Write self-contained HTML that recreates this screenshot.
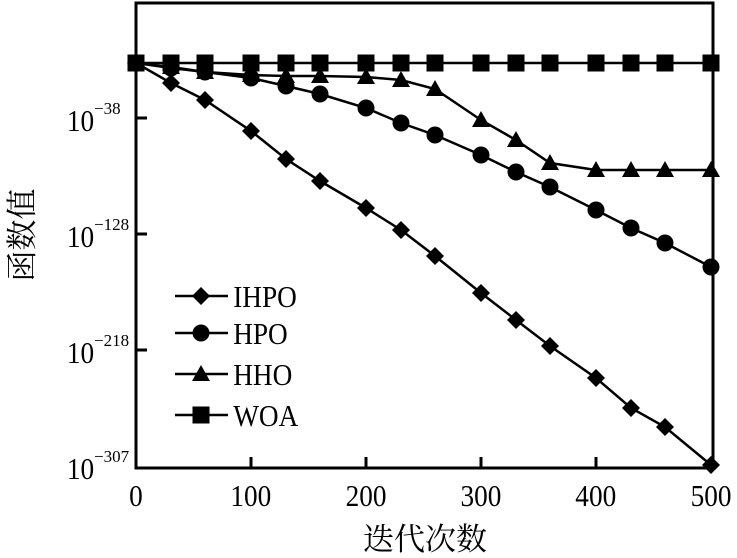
<!DOCTYPE html>
<html><head><meta charset="utf-8"><style>body{margin:0;background:#fff}</style></head><body>
<svg width="737" height="553" xmlns="http://www.w3.org/2000/svg" font-family="Liberation Serif, Noto Serif CJK SC, serif">
<defs>
<path id="d" d="M0,-9 L9,0 L0,9 L-9,0Z"/>
<circle id="c" r="8.5"/>
<path id="t" d="M0,-9 L9,7 L-9,7Z"/>
<rect id="s" x="-8.5" y="-8.5" width="17" height="17"/>
</defs>
<rect x="136" y="3" width="577" height="465" fill="none" stroke="#000" stroke-width="3"/>
<g stroke="#000" stroke-width="3">
<line x1="251" y1="468" x2="251" y2="457"/><line x1="366" y1="468" x2="366" y2="457"/><line x1="481" y1="468" x2="481" y2="457"/><line x1="596" y1="468" x2="596" y2="457"/>
<line x1="136" y1="118" x2="147" y2="118"/><line x1="136" y1="234" x2="147" y2="234"/><line x1="136" y1="350" x2="147" y2="350"/>
</g>
<g font-size="31" text-anchor="middle" transform="scale(0.88,1)">
<text x="154.5" y="506">0</text><text x="285" y="506">100</text><text x="416" y="506">200</text><text x="546.5" y="506">300</text><text x="677" y="506">400</text><text x="808" y="506">500</text>
</g>
<g font-size="31" text-anchor="end" transform="scale(0.88,1)">
<text x="107" y="131">10</text><text x="107" y="247">10</text><text x="107" y="363">10</text><text x="107" y="479">10</text>
</g>
<g font-size="17">
<text x="94" y="114">−38</text><text x="94" y="230">−128</text><text x="94" y="346">−218</text><text x="94" y="462">−307</text>
</g>
<text x="425" y="550" font-size="31" text-anchor="middle" font-family="Noto Serif CJK SC, serif">迭代次数</text>
<text transform="translate(33,235) rotate(-90)" font-size="31" text-anchor="middle" font-family="Noto Serif CJK SC, serif">函数值</text>
<g fill="none" stroke="#000" stroke-width="2.5">
<polyline points="136,63 171,83 205,100 251,131 286,159 320,181 366,208 401,230 435,256 481,293 516,320 550,346 596,378 631,408 665,427 711,465"/>
<polyline points="136,63 171,68 205,72 251,78 286,86 320,94 366,108 401,123 435,135 481,155 516,172 550,187 596,210 631,228 665,243 711,267"/>
<polyline points="136,63 171,67 205,72 251,75 286,76 320,76 366,77 401,80 435,89 481,120 516,140 550,163 596,170 631,170 665,170 711,170"/>
<polyline points="136,63 711,63"/>
<line x1="175" y1="296" x2="228" y2="296"/><line x1="175" y1="333" x2="228" y2="333"/><line x1="175" y1="374" x2="228" y2="374"/><line x1="175" y1="415" x2="228" y2="415"/>
</g>
<g fill="#000">
<use href="#d" x="136" y="63"/><use href="#d" x="171" y="83"/><use href="#d" x="205" y="100"/><use href="#d" x="251" y="131"/><use href="#d" x="286" y="159"/><use href="#d" x="320" y="181"/><use href="#d" x="366" y="208"/><use href="#d" x="401" y="230"/><use href="#d" x="435" y="256"/><use href="#d" x="481" y="293"/><use href="#d" x="516" y="320"/><use href="#d" x="550" y="346"/><use href="#d" x="596" y="378"/><use href="#d" x="631" y="408"/><use href="#d" x="665" y="427"/><use href="#d" x="711" y="465"/>
<use href="#c" x="136" y="63"/><use href="#c" x="171" y="68"/><use href="#c" x="205" y="72"/><use href="#c" x="251" y="78"/><use href="#c" x="286" y="86"/><use href="#c" x="320" y="94"/><use href="#c" x="366" y="108"/><use href="#c" x="401" y="123"/><use href="#c" x="435" y="135"/><use href="#c" x="481" y="155"/><use href="#c" x="516" y="172"/><use href="#c" x="550" y="187"/><use href="#c" x="596" y="210"/><use href="#c" x="631" y="228"/><use href="#c" x="665" y="243"/><use href="#c" x="711" y="267"/>
<use href="#t" x="171" y="67"/><use href="#t" x="205" y="72"/><use href="#t" x="251" y="75"/><use href="#t" x="286" y="76"/><use href="#t" x="320" y="76"/><use href="#t" x="366" y="77"/><use href="#t" x="401" y="80"/><use href="#t" x="435" y="89"/><use href="#t" x="481" y="120"/><use href="#t" x="516" y="140"/><use href="#t" x="550" y="163"/><use href="#t" x="596" y="170"/><use href="#t" x="631" y="170"/><use href="#t" x="665" y="170"/><use href="#t" x="711" y="170"/>
<use href="#s" x="136" y="63"/><use href="#s" x="171" y="63"/><use href="#s" x="205" y="63"/><use href="#s" x="251" y="63"/><use href="#s" x="286" y="63"/><use href="#s" x="320" y="63"/><use href="#s" x="366" y="63"/><use href="#s" x="401" y="63"/><use href="#s" x="435" y="63"/><use href="#s" x="481" y="63"/><use href="#s" x="516" y="63"/><use href="#s" x="550" y="63"/><use href="#s" x="596" y="63"/><use href="#s" x="631" y="63"/><use href="#s" x="665" y="63"/><use href="#s" x="711" y="63"/>
<use href="#d" x="201" y="296"/><use href="#c" x="201" y="333"/><use href="#t" x="201" y="374"/><use href="#s" x="201" y="415"/>
</g>
<g font-size="31" transform="scale(0.88,1)">
<text x="265" y="307">IHPO</text><text x="265" y="344">HPO</text><text x="265" y="385">HHO</text><text x="265" y="426">WOA</text>
</g>
</svg>
</body></html>
